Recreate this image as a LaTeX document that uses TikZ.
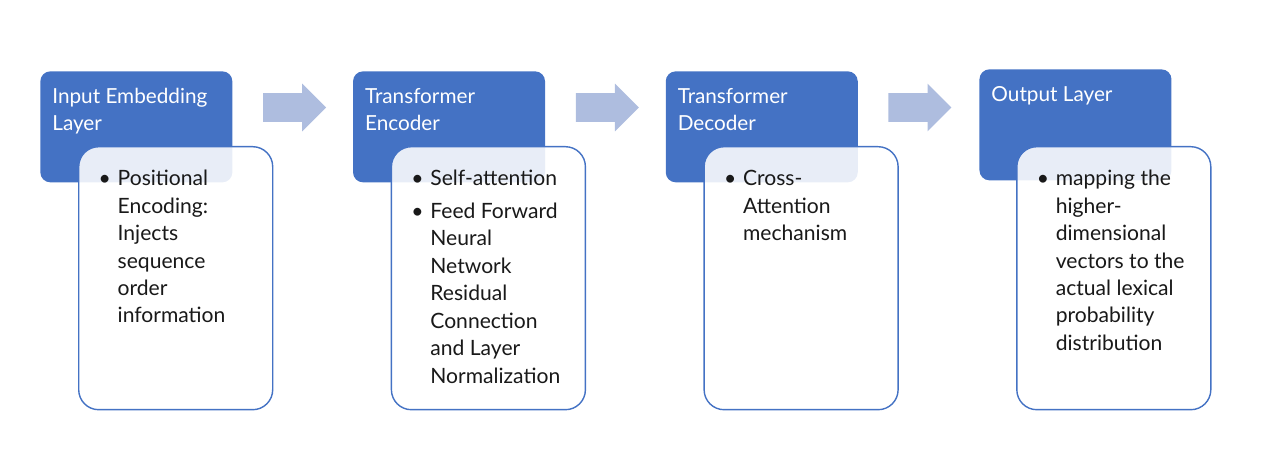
\documentclass[tikz,border=0pt]{standalone}
\usepackage{fontspec}
\setmainfont{Lato}
\usetikzlibrary{positioning,shapes.arrows}
\definecolor{hdblue}{RGB}{68,114,196}
\definecolor{flowblue}{RGB}{174,189,223}
\newcommand{\headtext}[1]{\parbox[t][1.72cm][t]{3.36cm}{\strut #1}}
\newcommand{\bodytext}[1]{\parbox[t][4.46cm][t]{3.08cm}{\begin{tabular}[t]{@{}p{0.38cm}@{}l@{}}#1\end{tabular}}}

\begin{document}
\begin{tikzpicture}[
    head/.style={fill=hdblue, text=white, rounded corners=0.2cm, inner xsep=0.24cm, inner ysep=0.25cm, font=\fontsize{11.8}{15.6}\selectfont},
    body/.style={draw=hdblue, line width=0.8pt, fill=white, fill opacity=0.88, text opacity=1, rounded corners=0.4cm, inner sep=0.4cm, text=black!90, font=\fontsize{12}{15.6}\selectfont},
    flow/.style={single arrow, fill=flowblue, draw=none, inner xsep=0pt, inner ysep=0.28cm, minimum height=1.26cm, single arrow head extend=0.19cm, anchor=west}]

    \useasboundingbox (0,0) rectangle (25.4,-9.22);

    % headers
    \node[head, anchor=north west] (inemb) at (0.8,-1.42) {\headtext{Input Embedding\\Layer}};
    \node[head, right=2.4cm of inemb] (encoder) {\headtext{Transformer\\Encoder}};
    \node[head, right=2.4cm of encoder] (decoder) {\headtext{Transformer\\Decoder}};
    \node[head, right=2.42cm of decoder, yshift=0.04cm] (outlayer) {\headtext{Output Layer}};

    % arrows between the stages
    \node[flow] (inemb2enc) at ([shift={(0.6,-0.73)}]inemb.north east) {};
    \node[flow] (enc2dec) at ([shift={(0.6,-0.73)}]encoder.north east) {};
    \node[flow] (dec2out) at ([shift={(0.6,-0.73)}]decoder.north east) {};

    % details
    \node[body, below right=1.5cm and 0.76cm of inemb.north west] (inembinfo) {\bodytext{%
        \textbullet & Positional\\ & Encoding:\\ & Injects\\ & sequence\\ & order\\ & information}};
    \node[body, below right=1.5cm and 0.76cm of encoder.north west] (encinfo) {\bodytext{%
        \textbullet & Self-attention\\[3pt]
        \textbullet & Feed Forward\\ & Neural\\ & Network\\ & Residual\\ & Connection\\ & and Layer\\ & Normalization}};
    \node[body, below right=1.5cm and 0.76cm of decoder.north west] (decinfo) {\bodytext{%
        \textbullet & Cross-\\ & Attention\\ & mechanism}};
    \node[body, below right=1.54cm and 0.74cm of outlayer.north west] (outinfo) {\bodytext{%
        \textbullet & mapping the\\ & higher-\\ & dimensional\\ & vectors to the\\ & actual lexical\\ & probability\\ & distribution}};
\end{tikzpicture}
\end{document}
